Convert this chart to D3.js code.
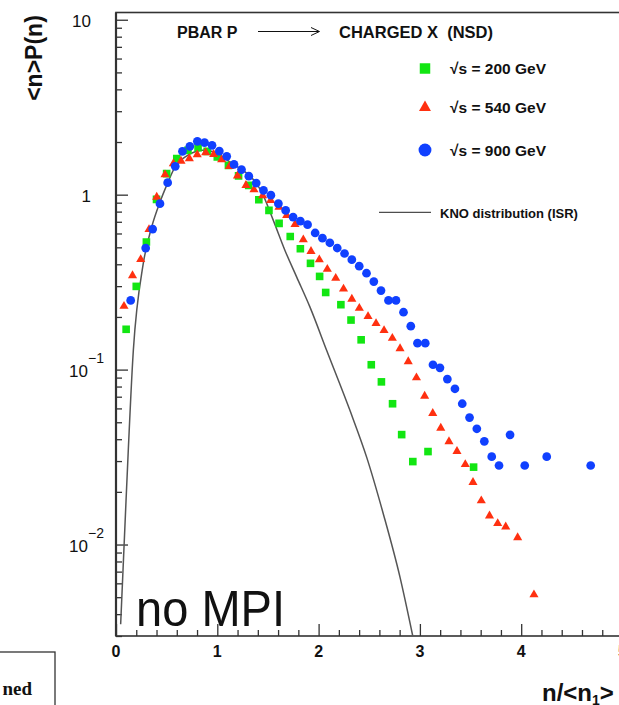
<!DOCTYPE html>
<html>
<head>
<meta charset="utf-8">
<script src="https://cdn.jsdelivr.net/npm/d3@7"></script>
<style>
body { margin: 0; background: #fff; }
svg { display: block; }
text { font-family: "Liberation Sans", Arial, sans-serif; fill: #111; }
</style>
</head>
<body>
<div id="chart"></div>
<script>
// sqrt(s) = 200 GeV (green squares)
const x200 = [0.10,0.20,0.30,0.40,0.50,0.60,0.71,0.81,0.90,1.00,1.11,1.21,1.31,1.41,1.51,1.61,1.72,1.82,1.92,2.01,2.07,2.22,2.32,2.42,2.52,2.62,2.73,2.82,2.93,3.08,3.53];
const y200 = [0.170,0.299,0.536,0.940,1.319,1.607,1.792,1.857,1.769,1.641,1.471,1.281,1.130,0.936,0.813,0.685,0.577,0.491,0.405,0.341,0.276,0.235,0.192,0.148,0.1066,0.0851,0.0638,0.0425,0.0298,0.0340,0.0277];

// sqrt(s) = 540 GeV (red triangles)
const x540 = [0.079,0.163,0.244,0.326,0.402,0.484,0.566,0.642,0.724,0.802,0.885,0.964,1.043,1.120,1.199,1.283,1.362,1.448,1.527,1.609,1.685,1.767,1.849,1.925,2.007,2.086,2.169,2.246,2.328,2.402,2.488,2.567,2.646,2.728,2.804,2.885,2.966,3.047,3.127,3.206,3.287,3.366,3.448,3.524,3.606,3.687,3.768,3.847,3.965,4.126];
const y540 = [0.2305,0.345,0.4265,0.633,0.969,1.301,1.504,1.557,1.607,1.693,1.739,1.700,1.586,1.452,1.281,1.130,1.068,0.987,0.928,0.849,0.761,0.676,0.553,0.474,0.425,0.375,0.333,0.289,0.253,0.2245,0.2012,0.1835,0.1674,0.1512,0.1320,0.1112,0.0899,0.0706,0.0563,0.0463,0.0388,0.0341,0.0287,0.0227,0.0178,0.0146,0.0132,0.01263,0.01095,0.00517];

// sqrt(s) = 900 GeV (blue circles)
const x900 = [0.145,0.293,0.362,0.434,0.510,0.585,0.656,0.729,0.803,0.874,0.948,1.020,1.093,1.165,1.239,1.311,1.384,1.456,1.529,1.603,1.675,1.748,1.820,1.891,1.966,2.038,2.111,2.184,2.256,2.328,2.401,2.473,2.545,2.616,2.690,2.764,2.838,2.910,2.976,3.053,3.129,3.198,3.271,3.346,3.418,3.490,3.562,3.636,3.709,3.781,3.890,4.035,4.252,4.686];
const y900 = [0.2485,0.495,0.636,0.888,1.171,1.452,1.769,1.889,2.018,1.984,1.915,1.776,1.656,1.490,1.392,1.276,1.165,1.058,0.993,0.888,0.813,0.745,0.706,0.674,0.604,0.564,0.531,0.4955,0.461,0.425,0.390,0.3556,0.3184,0.2828,0.2485,0.2485,0.2128,0.1771,0.1416,0.1416,0.1066,0.1024,0.0883,0.0777,0.0638,0.0532,0.0459,0.0389,0.0318,0.0283,0.0424,0.0283,0.0318,0.0283];

// KNO distribution (ISR)
const xKno = [0.046,0.099,0.171,0.269,0.352,0.434,0.500,0.582,0.68,0.78,0.88,0.98,1.125,1.438,1.553,1.668,1.784,1.915,2.080,2.310,2.475,2.639,2.804,2.929];
const yKno = [0.0035,0.0178,0.1286,0.403,0.653,0.907,1.130,1.439,1.64,1.76,1.80,1.74,1.537,1.035,0.713,0.480,0.338,0.2275,0.1286,0.0583,0.0315,0.01496,0.00649,0.00301];

const xTicks = [0, 1, 2, 3, 4, 5];
const yTicks = [10, 1, 0.1, 0.01];
const yTickBase = ["10", "1", "10", "10"];
const yTickExp = ["", "", "\u22121", "\u22122"];
const legendLabels = ["\u221As = 200 GeV", "\u221As = 540 GeV", "\u221As = 900 GeV"];

const W = 619, H = 705;
const colors = ["#12e612", "#ff3010", "#1040ff"];

const svg = d3.select("#chart")
    .append("svg")
    .attr("width", W)
    .attr("height", H);

svg.append("rect").attr("width", W).attr("height", H).attr("fill", "#fff");

const x = d3.scaleLinear().domain([0, 5]).range([116, 622.5]);
const y = d3.scaleLog().domain([0.003, 11]).range([636, 12.5]);

// minor ticks
const xMinor = d3.range(0, 5.001, 0.2).filter(v => Math.abs(v - Math.round(v)) > 1e-6);
const yMinor = [];
[-3, -2, -1, 0].forEach(e => {
    for (let k = 2; k <= 9; k++) {
        const v = k * Math.pow(10, e);
        if (v >= 0.003 && v <= 11) yMinor.push(v);
    }
});

svg.append("defs").append("clipPath").attr("id", "plotclip")
    .append("rect")
    .attr("x", x(0)).attr("y", y(11))
    .attr("width", x(5) - x(0)).attr("height", y(0.003) - y(11));

// axes (ticks pointing inward)
const axisStyle = g => {
    g.select(".domain").remove();
    g.selectAll(".tick line").attr("stroke", "#333").attr("stroke-width", 1.3);
};

svg.append("g")
    .attr("transform", `translate(${x(0)},0)`)
    .call(d3.axisLeft(y).tickValues(yTicks).tickSizeInner(-12).tickSizeOuter(0).tickFormat(""))
    .call(axisStyle);
svg.append("g")
    .attr("transform", `translate(${x(0)},0)`)
    .call(d3.axisLeft(y).tickValues(yMinor).tickSizeInner(-6).tickSizeOuter(0).tickFormat(""))
    .call(axisStyle);
svg.append("g")
    .attr("transform", `translate(0,${y(0.003)})`)
    .call(d3.axisBottom(x).tickValues(xTicks).tickSizeInner(-12).tickSizeOuter(0).tickFormat(""))
    .call(axisStyle);
svg.append("g")
    .attr("transform", `translate(0,${y(0.003)})`)
    .call(d3.axisBottom(x).tickValues(xMinor).tickSizeInner(-6).tickSizeOuter(0).tickFormat(""))
    .call(axisStyle);

// frame
svg.append("rect")
    .attr("x", x(0)).attr("y", y(11))
    .attr("width", x(5) - x(0)).attr("height", y(0.003) - y(11))
    .attr("fill", "none").attr("stroke", "#333").attr("stroke-width", 1.6);
svg.append("line")
    .attr("x1", x(0)).attr("x2", x(0)).attr("y1", y(11)).attr("y2", y(0.003))
    .attr("stroke", "#333").attr("stroke-width", 2.2);

// y tick labels
const yLab = svg.append("g").selectAll("text")
    .data(yTicks)
    .join("text")
    .attr("x", (d, i) => yTickExp[i] ? x(0) - 12 : x(0) - 25)
    .attr("y", d => y(d) + 7.5)
    .attr("text-anchor", "end")
    .style("font-size", "17px");
yLab.append("tspan").text((d, i) => yTickBase[i]);
yLab.filter((d, i) => yTickExp[i] !== "")
    .append("tspan")
    .attr("dy", -14)
    .style("font-size", "14px")
    .text(d => yTickExp[yTicks.indexOf(d)]);

// x tick labels
svg.append("g").selectAll("text")
    .data(xTicks)
    .join("text")
    .attr("x", d => x(d))
    .attr("y", y(0.003) + 21)
    .attr("text-anchor", "middle")
    .style("font-size", "16px")
    .style("font-weight", "bold")
    .text(d => d);

// axis titles
svg.append("text")
    .attr("transform", "translate(42,58) rotate(-90)")
    .attr("text-anchor", "middle")
    .style("font-size", "23px")
    .style("font-weight", "bold")
    .text("<n>P(n)");

const xt = svg.append("text")
    .attr("x", 542).attr("y", 701)
    .style("font-size", "24px")
    .style("font-weight", "bold");
xt.append("tspan").text("n/<n");
xt.append("tspan").attr("dy", 4).style("font-size", "14px").text("1");
xt.append("tspan").attr("dy", -4).text(">");

// plot contents
const plot = svg.append("g").attr("clip-path", "url(#plotclip)");

const kno = xKno.map((v, i) => [v, yKno[i]]);
plot.append("path")
    .datum(kno)
    .attr("fill", "none")
    .attr("stroke", "#555")
    .attr("stroke-width", 1.5)
    .attr("d", d3.line().x(d => x(d[0])).y(d => y(d[1])).curve(d3.curveMonotoneX));

const series = [
    { xs: x200, ys: y200, type: d3.symbolSquare, size: 58, color: colors[0] },
    { xs: x540, ys: y540, type: d3.symbolTriangle, size: 36, color: colors[1] },
    { xs: x900, ys: y900, type: d3.symbolCircle, size: 60, color: colors[2] }
];

series.forEach(s => {
    const pts = s.xs.map((v, i) => [v, s.ys[i]]);
    plot.append("g").selectAll("path")
        .data(pts)
        .join("path")
        .attr("transform", d => `translate(${x(d[0])},${y(d[1])})`)
        .attr("d", d3.symbol().type(s.type).size(s.size))
        .attr("fill", s.color);
});

// header text
svg.append("text")
    .attr("x", 177).attr("y", 37.5)
    .style("font-size", "16px").style("font-weight", "bold")
    .text("PBAR P");
svg.append("line")
    .attr("x1", 258).attr("x2", 319).attr("y1", 31.5).attr("y2", 31.5)
    .attr("stroke", "#111").attr("stroke-width", 1);
svg.append("path")
    .attr("d", "M311,27.5 L319.5,31.5 L311,35.5")
    .attr("fill", "none").attr("stroke", "#111").attr("stroke-width", 1);
svg.append("text")
    .attr("x", 339).attr("y", 37.5)
    .style("font-size", "16.5px").style("font-weight", "bold")
    .attr("xml:space", "preserve")
    .text("CHARGED X  (NSD)");

// legend
const legY = [68.5, 107.5, 150];
series.forEach((s, i) => {
    const big = i === 0 ? 110 : (i === 1 ? 62 : 130);
    svg.append("path")
        .attr("transform", `translate(425,${legY[i]})`)
        .attr("d", d3.symbol().type(s.type).size(big))
        .attr("fill", s.color);
    svg.append("text")
        .attr("x", 450).attr("y", legY[i] + 5.5)
        .style("font-size", "15.5px").style("font-weight", "bold")
        .text(legendLabels[i]);
});
svg.append("line")
    .attr("x1", 379).attr("x2", 431).attr("y1", 212.3).attr("y2", 212.3)
    .attr("stroke", "#222").attr("stroke-width", 1);
svg.append("text")
    .attr("x", 440).attr("y", 217.5)
    .style("font-size", "13px").style("font-weight", "bold")
    .text("KNO distribution (ISR)");

// big annotation
svg.append("text")
    .attr("x", 136).attr("y", 626)
    .attr("textLength", 149).attr("lengthAdjust", "spacingAndGlyphs")
    .style("font-size", "50px")
    .text("no MPI");

// clipped neighbouring box in the corner
svg.append("rect")
    .attr("x", -2).attr("y", 652).attr("width", 57).attr("height", 70)
    .attr("fill", "none").attr("stroke", "#333").attr("stroke-width", 1.3);
svg.append("text")
    .attr("x", 32).attr("y", 695)
    .attr("text-anchor", "end")
    .style("font-family", "'Liberation Serif', serif")
    .style("font-size", "19px").style("font-weight", "bold")
    .text("ned");
</script>
</body>
</html>
